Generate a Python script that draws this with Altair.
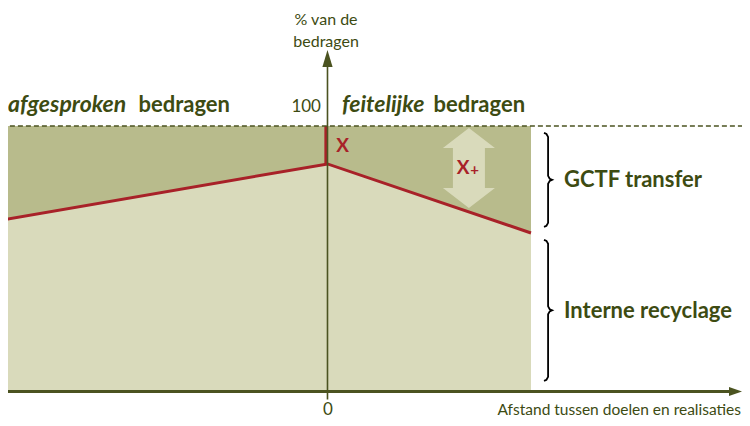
import altair as alt
import pandas as pd

# ---------------- data (conceptual diagram values) ----------------
# x: afstand tussen doelen en realisaties (0 = doel), y: % van de bedragen
dist = [-160, 0, 100]              # left edge, target, right edge of the shaded zone
recycle_pct = [64.6, 85.7, 59.7]   # boundary interne recyclage / GCTF transfer (red line)
full_pct = 100                     # 100 % level (dashed line)
gap_x = -0.8                       # red "X" gap right at the target

brace_x = 108.4
braces = [  # (name, top %, bottom %)
    ("gctf", 97.4, 62.0),
    ("intern", 57.1, 4.0),
]

arrow_center = (69.5, 84.2)        # double arrow "X+"

TEXT = "#3d4b12"
AXIS = "#4b5320"
RED = "#a82128"
DARK = "#b8bb8c"
LIGHT = "#d9dabb"
HEAD = "Lato"

XS = alt.Scale(domain=[-157.0, 203.69], nice=False, zero=False)
YS = alt.Scale(domain=[-10.0, 144.44], nice=False, zero=False)


def X(f="x"):
    return alt.X(f"{f}:Q", scale=XS, axis=None)


def Y(f="y"):
    return alt.Y(f"{f}:Q", scale=YS, axis=None)


layers = []

# light base zone (interne recyclage)
base_df = pd.DataFrame({"x": [dist[0]], "x2": [dist[-1]], "y": [0], "y2": [full_pct]})
layers.append(alt.Chart(base_df).mark_rect(color=LIGHT).encode(
    x=X(), x2="x2:Q", y=Y(), y2="y2:Q"))

# dark zone (GCTF transfer) between red line and 100 %
zone_df = pd.DataFrame({"x": dist, "y": recycle_pct, "y2": [full_pct] * len(dist)})
layers.append(alt.Chart(zone_df).mark_area(color=DARK, opacity=1).encode(
    x=X(), y=Y(), y2="y2:Q"))

# double arrow X+
arrow_path = ("M0,-1L0.65,-0.5L0.4,-0.5L0.4,0.5L0.65,0.5L0,1L-0.65,0.5L-0.4,0.5"
              "L-0.4,-0.5L-0.65,-0.5Z")
arr_df = pd.DataFrame({"x": [arrow_center[0]], "y": [arrow_center[1]]})
layers.append(alt.Chart(arr_df).mark_point(
    shape=arrow_path, size=6400, filled=True, color=LIGHT, opacity=1, strokeWidth=0
).encode(x=X(), y=Y()))

# red boundary line
layers.append(alt.Chart(zone_df).mark_line(color=RED, strokeWidth=3).encode(x=X(), y=Y()))

# red vertical gap X at the target
gap_df = pd.DataFrame({"x": [gap_x], "y": [recycle_pct[1]], "y2": [full_pct]})
layers.append(alt.Chart(gap_df).mark_rule(color=RED, strokeWidth=3).encode(
    x=X(), y=Y(), y2="y2:Q"))

# dashed 100 % line
dash_df = pd.DataFrame({"x": [-160], "x2": [204], "y": [full_pct]})
layers.append(alt.Chart(dash_df).mark_rule(color=AXIS, strokeWidth=1.3, strokeDash=[5, 3]).encode(
    x=X(), x2="x2:Q", y=Y()))

# y axis with arrow
yax_df = pd.DataFrame({"x": [0], "y": [-3.0], "y2": [123.0]})
layers.append(alt.Chart(yax_df).mark_rule(color=AXIS, strokeWidth=1.6).encode(
    x=X(), y=Y(), y2="y2:Q"))
yhead_df = pd.DataFrame({"x": [0], "y": [125.4]})
layers.append(alt.Chart(yhead_df).mark_point(
    shape="M0,-1L0.6,1L-0.6,1Z", size=289, filled=True, color=AXIS, opacity=1, strokeWidth=0
).encode(x=X(), y=Y()))

# x axis with arrow
xax_df = pd.DataFrame({"x": [-160], "x2": [198.5], "y": [0]})
layers.append(alt.Chart(xax_df).mark_rule(color=AXIS, strokeWidth=3).encode(
    x=X(), x2="x2:Q", y=Y()))
xhead_df = pd.DataFrame({"x": [200.5], "y": [0]})
layers.append(alt.Chart(xhead_df).mark_point(
    shape="M1,0L-1,-0.7L-1,0.7Z", size=169, filled=True, color=AXIS, opacity=1, strokeWidth=0
).encode(x=X(), y=Y()))

# braces
rows = []
for name, yt, yb in braces:
    ym = (yt + yb) / 2
    pts = [(-2, yt), (-0.8, yt - 0.4), (0, yt - 1.5), (0, ym + 1.5), (0.8, ym + 0.4),
           (2, ym), (0.8, ym - 0.4), (0, ym - 1.5), (0, yb + 1.5), (-0.8, yb + 0.4), (-2, yb)]
    for i, (dx, yy) in enumerate(pts):
        rows.append({"b": name, "o": i, "x": brace_x + dx, "y": yy})
brace_df = pd.DataFrame(rows)
layers.append(alt.Chart(brace_df).mark_line(color="black", strokeWidth=1.8).encode(
    x=X(), y=Y(), detail="b:N", order="o:Q"))


def text_layer(rows, **kw):
    df = pd.DataFrame(rows, columns=["t", "x", "y"])
    return alt.Chart(df).mark_text(**kw).encode(x=X(), y=Y(), text="t:N")


# headings: italic parts
layers.append(text_layer([["afgesproken", -157.0, 105.3], ["feitelijke", 7.1, 105.3]],
                         align="left", baseline="alphabetic", font=HEAD, fontSize=23,
                         fontWeight="bold", fontStyle="italic", color=TEXT))
layers.append(text_layer([["bedragen", -47.9, 105.3], ["bedragen", 97.1, 105.3]],
                         align="right", baseline="alphabetic", font=HEAD, fontSize=22,
                         fontWeight="bold", color=TEXT))
# zone labels
layers.append(text_layer([["GCTF transfer", 116.2, 77.0], ["Interne recyclage", 116.2, 27.7]],
                         align="left", baseline="alphabetic", font=HEAD, fontSize=22,
                         fontWeight="bold", color=TEXT))
# axis texts
layers.append(text_layer([["100", -3.2, 105.3]], align="right", baseline="alphabetic",
                         font=HEAD, fontSize=17, color=TEXT))
layers.append(text_layer([["% van de", -0.7, 138.0], ["bedragen", -0.7, 129.8]],
                         align="center", baseline="alphabetic", font=HEAD, fontSize=16, color=TEXT))
layers.append(text_layer([["0", 0.2, -8.8]],
                         align="center", baseline="alphabetic", font=HEAD, fontSize=17, color=TEXT))
layers.append(text_layer([["Afstand tussen doelen en realisaties", 203.2, -8.8]],
                         align="right", baseline="alphabetic", font=HEAD, fontSize=15.5, color=TEXT))
# X labels
layers.append(text_layer([["X", 7.4, 92.5], ["X", 66.6, 84.0]], align="center",
                         baseline="middle", font=HEAD, fontSize=19, fontWeight="bold", color=RED))
layers.append(text_layer([["+", 72.3, 83.6]], align="center", baseline="middle",
                         font=HEAD, fontSize=15, fontWeight="bold", color=RED))

chart = alt.layer(*layers).properties(
    width=734, height=410, padding=0,
    autosize=alt.AutoSizeParams(type="none"), background="white"
).configure_view(stroke=None)

chart.save("out.html", embed_options={"renderer": "svg", "actions": False})
